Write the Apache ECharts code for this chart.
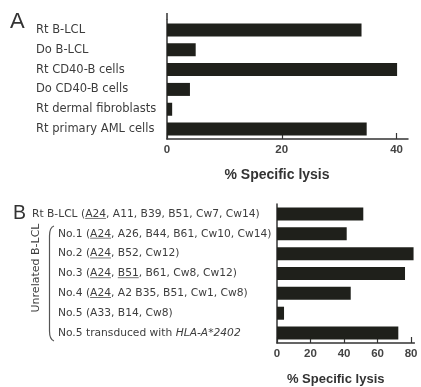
<!DOCTYPE html>
<html><head><meta charset="utf-8">
<script src="https://cdn.jsdelivr.net/npm/echarts@6/dist/echarts.min.js"></script>
<style>html,body{margin:0;padding:0;background:#fff}#c{width:421px;height:387px}</style>
</head><body><div id="c"></div>
<script>
// ---- data ----
const catsA = ['Rt B-LCL', 'Do B-LCL', 'Rt CD40-B cells', 'Do CD40-B cells', 'Rt dermal fibroblasts', 'Rt primary AML cells'];
const valsA = [33.9, 5.0, 40.1, 4.0, 0.9, 34.8];
const ticksA = [0, 20, 40];

const catsB = [
  'Rt B-LCL (A24, A11, B39, B51, Cw7, Cw14)',
  'No.1 (A24, A26, B44, B61, Cw10, Cw14)',
  'No.2 (A24, B52, Cw12)',
  'No.3 (A24, B51, B61, Cw8, Cw12)',
  'No.4 (A24, A2 B35, B51, Cw1, Cw8)',
  'No.5 (A33, B14, Cw8)',
  'No.5 transduced with HLA-A*2402'
];
const valsB = [51.5, 41.6, 81.5, 76.4, 44.0, 4.2, 72.4];
const ticksB = [0, 20, 40, 60, 80];
const underlineB = [['A24'], ['A24'], ['A24'], ['A24', 'B51'], ['A24'], [], []];
const italicB = [[], [], [], [], [], [], ['HLA-A*2402']];
const axisTitle = '% Specific lysis';

// ---- styling ----
const barCol = '#1f201b';
const axisCol = '#333';
const labCol = '#3d3d3d';
const gA = {left: 167, top: 20, width: 241, height: 119};
const gB = {left: 277, top: 204, width: 137.4, height: 139};

const ul = document.createElement('canvas');
ul.width = 2; ul.height = 14;
const g2 = ul.getContext('2d');
g2.fillStyle = '#444';
g2.fillRect(0, 12, 2, 1);

const base = {fontFamily: 'DejaVu Sans', fontSize: 10.7, color: labCol, lineHeight: 14};
const richStyles = {
  t: Object.assign({}, base),
  u: Object.assign({}, base, {backgroundColor: {image: ul}}),
  i: Object.assign({}, base, {fontStyle: 'italic'}),
  p: Object.assign({}, base, {padding: [0, 0, 0, 26]})
};

function richB(label, idx) {
  const marks = [];
  underlineB[idx].forEach(w => { const p = label.indexOf(w); if (p >= 0) marks.push([p, w.length, 'u']); });
  italicB[idx].forEach(w => { const p = label.indexOf(w); if (p >= 0) marks.push([p, w.length, 'i']); });
  marks.sort((a, b) => a[0] - b[0]);
  const segs = []; let pos = 0;
  marks.forEach(m => {
    if (m[0] > pos) segs.push([label.slice(pos, m[0]), 't']);
    segs.push([label.slice(m[0], m[0] + m[1]), m[2]]);
    pos = m[0] + m[1];
  });
  if (pos < label.length) segs.push([label.slice(pos), 't']);
  if (idx > 0) segs[0][1] = 'p';
  return segs.map(s => '{' + s[1] + '|' + s[0] + '}').join('');
}

const tickLabel = {margin: 5, fontFamily: 'Liberation Sans', fontSize: 11.5, fontWeight: 'bold', color: '#444'};
const braceStyle = {stroke: '#555', lineWidth: 1.2, fill: null};

const chart = echarts.init(document.getElementById('c'), null, {renderer: 'canvas'});
chart.setOption({
  animation: false,
  backgroundColor: '#fff',
  grid: [gA, gB],
  xAxis: [
    {
      gridIndex: 0, type: 'value', min: 0, max: 42, interval: 20,
      splitLine: {show: false},
      axisLine: {show: true, lineStyle: {color: axisCol, width: 1.5}},
      axisTick: {show: true, inside: true, length: 6, customValues: ticksA, lineStyle: {color: axisCol, width: 1.2}},
      axisLabel: Object.assign({customValues: ticksA}, tickLabel),
      name: axisTitle, nameLocation: 'middle', nameGap: 29,
      nameTextStyle: {fontFamily: 'Liberation Sans', fontWeight: 'bold', fontSize: 14, color: '#333', padding: [0, 21, 0, 0]}
    },
    {
      gridIndex: 1, type: 'value', min: 0, max: 82, interval: 20,
      splitLine: {show: false},
      axisLine: {show: true, lineStyle: {color: axisCol, width: 1.5}},
      axisTick: {show: true, inside: true, length: 6, customValues: ticksB, lineStyle: {color: axisCol, width: 1.2}},
      axisLabel: Object.assign({customValues: ticksB}, tickLabel),
      name: axisTitle, nameLocation: 'middle', nameGap: 30,
      nameTextStyle: {fontFamily: 'Liberation Sans', fontWeight: 'bold', fontSize: 13, color: '#333', padding: [0, 20, 0, 0]}
    }
  ],
  yAxis: [
    {
      gridIndex: 0, type: 'category', inverse: true, data: catsA,
      axisLine: {show: true, lineStyle: {color: axisCol, width: 1.5}},
      axisTick: {show: false},
      axisLabel: {align: 'left', margin: 131, fontFamily: 'DejaVu Sans', fontSize: 11.5, color: labCol}
    },
    {
      gridIndex: 1, type: 'category', inverse: true, data: catsB,
      axisLine: {show: true, lineStyle: {color: axisCol, width: 1.5}},
      axisTick: {show: false},
      axisLabel: {align: 'left', margin: 245, formatter: richB, rich: richStyles}
    }
  ],
  series: [
    {type: 'bar', xAxisIndex: 0, yAxisIndex: 0, data: valsA, barWidth: 13, itemStyle: {color: barCol}},
    {type: 'bar', xAxisIndex: 1, yAxisIndex: 1, data: valsB, barWidth: 13, itemStyle: {color: barCol}}
  ],
  graphic: [
    {type: 'line', shape: {x1: gA.left, y1: gA.top - 7, x2: gA.left, y2: gA.top}, style: {stroke: axisCol, lineWidth: 1.5}},
    {type: 'text', left: 10, top: 11, style: {text: 'A', fontFamily: 'Liberation Sans', fontSize: 22, fill: '#333'}},
    {type: 'text', left: 13, top: 204, style: {text: 'B', fontFamily: 'Liberation Sans', fontSize: 19.5, fill: '#333'}},
    {type: 'text', x: 36, y: 268, rotation: Math.PI / 2,
     style: {text: 'Unrelated B-LCL', fontFamily: 'DejaVu Sans', fontSize: 11, fill: labCol, align: 'center', verticalAlign: 'middle'}},
    {type: 'bezierCurve', shape: {x1: 54, y1: 226, cpx1: 49.5, cpy1: 227.5, x2: 49.5, y2: 236}, style: braceStyle},
    {type: 'line', shape: {x1: 49.5, y1: 236, x2: 49.5, y2: 331}, style: braceStyle},
    {type: 'bezierCurve', shape: {x1: 49.5, y1: 331, cpx1: 49.5, cpy1: 339.5, x2: 54, y2: 341}, style: braceStyle}
  ]
});
</script>
</body></html>
